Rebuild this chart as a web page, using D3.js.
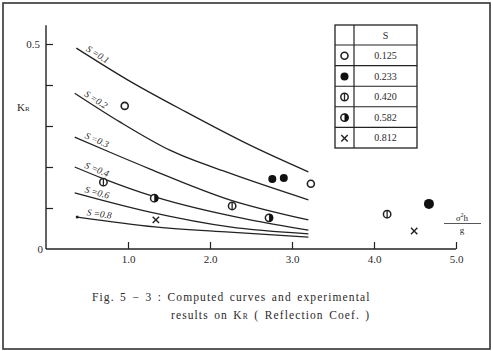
<!DOCTYPE html>
<html>
<head>
<meta charset="utf-8">
<script src="https://cdn.jsdelivr.net/npm/d3@7"></script>
<style>
  body { margin: 0; background: #fff; }
  svg { display: block; }
  text { font-family: "Liberation Serif", "DejaVu Serif", serif; fill: #2a2a2a; }
</style>
</head>
<body>
<div id="chart"></div>
<script>
// computed curves, one per S value  [sigma^2 h / g , KR]
var curveLabels = ["0.1", "0.2", "0.3", "0.4", "0.6", "0.8"];
var curveS01 = [[0.37, 0.490], [1.00, 0.412], [1.70, 0.335], [2.50, 0.252], [3.20, 0.188]];
var curveS02 = [[0.35, 0.380], [0.90, 0.310], [1.51, 0.241], [2.24, 0.185], [3.20, 0.120]];
var curveS03 = [[0.35, 0.273], [0.78, 0.236], [1.27, 0.195], [2.24, 0.120], [3.20, 0.071]];
var curveS04 = [[0.35, 0.200], [0.68, 0.173], [1.33, 0.127], [2.49, 0.071], [3.20, 0.046]];
var curveS06 = [[0.35, 0.137], [1.27, 0.090], [2.24, 0.054], [3.20, 0.037]];
var curveS08 = [[0.38, 0.078], [1.33, 0.054], [2.24, 0.041], [3.20, 0.029]];
var curves = [curveS01, curveS02, curveS03, curveS04, curveS06, curveS08];

// experimental results
var legendValues = ["0.125", "0.233", "0.420", "0.582", "0.812"];
var legendSymbols = ["open", "filled", "phi", "half", "cross"];
var ptsOpen = [[0.96, 0.349], [3.23, 0.159]];
var ptsFilled = [[2.76, 0.171], [2.90, 0.173], [4.67, 0.110]];
var ptsPhi = [[0.70, 0.163], [2.27, 0.105], [4.16, 0.085]];
var ptsHalf = [[1.32, 0.124], [2.72, 0.076]];
var ptsCross = [[1.34, 0.071], [4.49, 0.044]];
var points = [ptsOpen, ptsFilled, ptsPhi, ptsHalf, ptsCross];

var xTicks = [1, 2, 3, 4, 5];
var yTicks = [0.1, 0.2, 0.3, 0.4, 0.5];

var W = 493, H = 351;
var ink = "#222";

var svg = d3.select("#chart").append("svg")
    .attr("width", W)
    .attr("height", H);

// outer frame
svg.append("rect")
    .attr("x", 3).attr("y", 3)
    .attr("width", W - 6).attr("height", H - 5)
    .attr("fill", "#fff")
    .attr("stroke", "#333")
    .attr("stroke-width", 1.6);

var x = d3.scaleLinear().domain([0, 5]).range([46, 456]);
var y = d3.scaleLinear().domain([0, 0.5]).range([249, 44]);

// axes
var xAxis = d3.axisBottom(x).tickValues(xTicks).tickSize(-7).tickFormat(d3.format(".1f")).tickPadding(6);
var gx = svg.append("g").attr("transform", "translate(0," + y(0) + ")").call(xAxis);
gx.select(".domain").attr("d", "M" + x(0) + ",0H" + x(5)).attr("stroke", ink).attr("stroke-width", 1.4);
gx.selectAll(".tick line").attr("stroke", ink).attr("stroke-width", 1.2);
gx.selectAll(".tick text").attr("font-size", 11).attr("font-family", "Liberation Serif, serif").attr("fill", "#333");

var yAxis = d3.axisLeft(y).tickValues(yTicks).tickSize(-7).tickFormat("");
var gy = svg.append("g").attr("transform", "translate(" + x(0) + ",0)").call(yAxis);
gy.select(".domain").attr("d", "M0," + y(0) + "V" + y(0.546)).attr("stroke", ink).attr("stroke-width", 1.4);
gy.selectAll(".tick line").attr("stroke", ink).attr("stroke-width", 1.2);

svg.append("text").attr("x", x(0) - 6).attr("y", y(0.5) + 4)
    .attr("text-anchor", "end").attr("font-size", 11).text("0.5");
svg.append("text").attr("x", x(0) - 3).attr("y", y(0) + 4)
    .attr("text-anchor", "end").attr("font-size", 11).text("0");

var kr = svg.append("text").attr("x", 17).attr("y", 111).attr("font-size", 11);
kr.append("tspan").text("K");
kr.append("tspan").attr("font-size", 7).text("R");

// x axis label, a fraction sigma^2 h / g
var fx = 462;
var num = svg.append("text").attr("x", fx).attr("y", 221).attr("text-anchor", "middle").attr("font-size", 9);
num.append("tspan").attr("font-style", "italic").text("σ");
num.append("tspan").attr("font-size", 6).attr("dy", -4).text("2");
num.append("tspan").attr("dy", 4).text("h");
svg.append("line").attr("x1", fx - 18).attr("x2", fx + 19).attr("y1", 223.5).attr("y2", 223.5)
    .attr("stroke", "#444").attr("stroke-width", 0.9);
svg.append("text").attr("x", fx).attr("y", 233).attr("text-anchor", "middle").attr("font-size", 9).text("g");

// computed curves
var line = d3.line()
    .x(function(d) { return x(d[0]); })
    .y(function(d) { return y(d[1]); })
    .curve(d3.curveMonotoneX);

curves.forEach(function(c, i) {
    var path = svg.append("path")
        .datum(c)
        .attr("d", line)
        .attr("fill", "none")
        .attr("stroke", ink)
        .attr("stroke-width", 1.3);

    // label sits on the curve just after its start, rotated to the local slope
    var node = path.node();
    var p1 = node.getPointAtLength(9);
    var p2 = node.getPointAtLength(36);
    var ang = Math.atan2(p2.y - p1.y, p2.x - p1.x) * 180 / Math.PI;
    var t = svg.append("text")
        .attr("transform", "translate(" + p1.x + "," + p1.y + ") rotate(" + ang + ") translate(0,-3)")
        .attr("font-size", 9.5)
        .attr("font-style", "italic");
    t.append("tspan").text("S");
    t.append("tspan").attr("dx", 2).text("=" + curveLabels[i]);
});

// small dot at start of the S=0.8 curve
svg.append("circle").attr("cx", x(curveS08[0][0])).attr("cy", y(curveS08[0][1])).attr("r", 1.5).attr("fill", ink);

// marker drawing
function drawMarker(g, type, cx, cy, r) {
    if (type === "open") {
        g.append("circle").attr("cx", cx).attr("cy", cy).attr("r", r - 0.5)
            .attr("fill", "#fff").attr("stroke", ink).attr("stroke-width", 1.6);
    } else if (type === "filled") {
        g.append("circle").attr("cx", cx).attr("cy", cy).attr("r", r).attr("fill", "#111");
    } else if (type === "phi") {
        g.append("circle").attr("cx", cx).attr("cy", cy).attr("r", r - 0.3)
            .attr("fill", "#fff").attr("stroke", ink).attr("stroke-width", 1.5);
        g.append("line").attr("x1", cx).attr("x2", cx).attr("y1", cy - r).attr("y2", cy + r)
            .attr("stroke", ink).attr("stroke-width", 1.3);
    } else if (type === "half") {
        g.append("circle").attr("cx", cx).attr("cy", cy).attr("r", r - 0.3)
            .attr("fill", "#fff").attr("stroke", ink).attr("stroke-width", 1.5);
        g.append("path")
            .attr("d", d3.arc()({ innerRadius: 0, outerRadius: r, startAngle: 0, endAngle: Math.PI }))
            .attr("transform", "translate(" + cx + "," + cy + ")")
            .attr("fill", "#111");
    } else if (type === "cross") {
        var s = r * 0.8;
        g.append("path")
            .attr("d", "M" + (cx - s) + "," + (cy - s) + "L" + (cx + s) + "," + (cy + s) +
                       "M" + (cx + s) + "," + (cy - s) + "L" + (cx - s) + "," + (cy + s))
            .attr("stroke", ink).attr("stroke-width", 1.4);
    }
}

var gPts = svg.append("g");
points.forEach(function(set, i) {
    set.forEach(function(p) {
        var r = 4;
        if (legendSymbols[i] === "filled" && p[0] > 4) r = 5;
        drawMarker(gPts, legendSymbols[i], x(p[0]), y(p[1]), r);
    });
});

// legend table
var tX0 = 335, tX1 = 354, tX2 = 417;
var tY0 = 25, headH = 20, rowH = 20.6;
var tY1 = tY0 + headH + rowH * legendValues.length;
var gLeg = svg.append("g");
gLeg.append("rect").attr("x", tX0).attr("y", tY0).attr("width", tX2 - tX0).attr("height", tY1 - tY0)
    .attr("fill", "#fff").attr("stroke", ink).attr("stroke-width", 1.3);
gLeg.append("line").attr("x1", tX1).attr("x2", tX1).attr("y1", tY0).attr("y2", tY1)
    .attr("stroke", ink).attr("stroke-width", 1.2);
gLeg.append("text").attr("x", (tX1 + tX2) / 2).attr("y", tY0 + 14)
    .attr("text-anchor", "middle").attr("font-size", 10).text("S");
legendValues.forEach(function(v, i) {
    var top = tY0 + headH + i * rowH;
    gLeg.append("line").attr("x1", tX0).attr("x2", tX2).attr("y1", top).attr("y2", top)
        .attr("stroke", ink).attr("stroke-width", 1.1);
    gLeg.append("text").attr("x", (tX1 + tX2) / 2).attr("y", top + 14)
        .attr("text-anchor", "middle").attr("font-size", 10).text(v);
    drawMarker(gLeg, legendSymbols[i], (tX0 + tX1) / 2, top + rowH / 2 + 0.5, 4);
});

// caption
svg.append("text").attr("x", 92).attr("y", 301).attr("font-size", 11.5)
    .attr("letter-spacing", 1.1).attr("word-spacing", 1.5)
    .text("Fig. 5 − 3 :  Computed curves and experimental");
var cap2 = svg.append("text").attr("x", 171).attr("y", 319).attr("font-size", 11.5)
    .attr("letter-spacing", 1.1).attr("word-spacing", 1.5);
cap2.append("tspan").text("results on K");
cap2.append("tspan").attr("font-size", 7.5).text("R");
cap2.append("tspan").text(" ( Reflection Coef. )");
</script>
</body>
</html>
